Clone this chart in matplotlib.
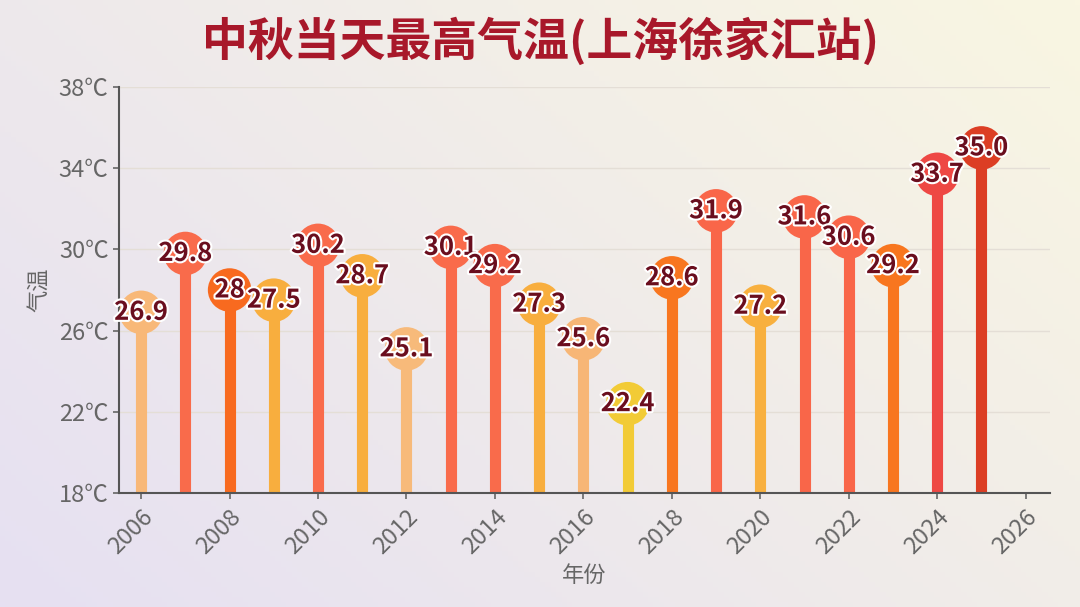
import numpy as np
import matplotlib.pyplot as plt
import matplotlib.patheffects as pe

plt.rcParams['font.family'] = ['Noto Sans CJK SC', 'DejaVu Sans']

years = list(range(2006, 2026))
temps = [26.9, 29.8, 28, 27.5, 30.2, 28.7, 25.1, 30.1, 29.2, 27.3,
         25.6, 22.4, 28.6, 31.9, 27.2, 31.6, 30.6, 29.2, 33.7, 35.0]
labels = ['26.9', '29.8', '28', '27.5', '30.2', '28.7', '25.1', '30.1', '29.2', '27.3',
          '25.6', '22.4', '28.6', '31.9', '27.2', '31.6', '30.6', '29.2', '33.7', '35.0']
colors = ['#F8B878', '#F96B4B', '#F86A1F', '#F8AE3E', '#F96B4B', '#F8AE3E', '#F7BA7A',
          '#F96B4B', '#F96B4B', '#F8AE3E', '#F7B676', '#F2CB36', '#F8761F', '#F96649',
          '#F8B03F', '#F96649', '#F96649', '#F8761F', '#EE4844', '#DC3E24']
yticks = [18, 22, 26, 30, 34, 38]
xticks = list(range(2006, 2027, 2))

fig = plt.figure(figsize=(10.8, 6.07), dpi=100)

# background gradient: lavender bottom-left -> cream top-right
bg = fig.add_axes([0, 0, 1, 1], zorder=-10)
gx, gy = np.meshgrid(np.linspace(0, 1, 200), np.linspace(0, 1, 120))
t = np.clip((gx * 0.6 + gy * 0.4), 0, 1)[..., None]
c0 = np.array([0xE6, 0xE0, 0xF2]) / 255
c1 = np.array([0xF9, 0xF6, 0xE2]) / 255
img = c0 * (1 - t) + c1 * t
bg.imshow(img, origin='lower', aspect='auto', extent=[0, 1, 0, 1])
bg.axis('off')

ax = fig.add_axes([0.1102, 0.1878, 0.8620, 0.6689])
ax.patch.set_alpha(0)

ax.vlines(years, 18, temps, colors=colors, lw=8, zorder=2)
ax.scatter(years, temps, s=980, c=colors, zorder=3, linewidths=0)
for x, y, lab in zip(years, temps, labels):
    ax.text(x, y, lab, ha='center', va='center', fontsize=18.5, fontweight='bold',
            color='#6A0E1E', zorder=4,
            path_effects=[pe.withStroke(linewidth=3, foreground='white')])

ax.set_xlim(2005.5, 2026.55)
ax.set_ylim(18, 38)
ax.set_yticks(yticks)
ax.set_yticklabels([f'{v}℃' for v in yticks])
ax.set_xticks(xticks)
ax.set_xticklabels([str(v) for v in xticks], rotation=45, ha='right',
                   rotation_mode='anchor')
ax.tick_params(colors='#666666', labelsize=17, length=4, width=1.2)
ax.tick_params(axis='x', pad=5)
ax.grid(axis='y', color='#E4DED6', lw=1)
ax.set_axisbelow(True)
for s in ['top', 'right']:
    ax.spines[s].set_visible(False)
for s in ['left', 'bottom']:
    ax.spines[s].set_color('#555555')
    ax.spines[s].set_linewidth(1.5)

ax.set_xlabel('年份', fontsize=16, color='#666666', labelpad=4)
ax.set_ylabel('气温', fontsize=16, color='#666666', labelpad=6)

fig.text(0.5, 0.931, '中秋当天最高气温(上海徐家汇站)', ha='center', va='center',
         fontsize=33, fontweight='bold', color='#A8182A')

fig.savefig('out.png', dpi=100)
